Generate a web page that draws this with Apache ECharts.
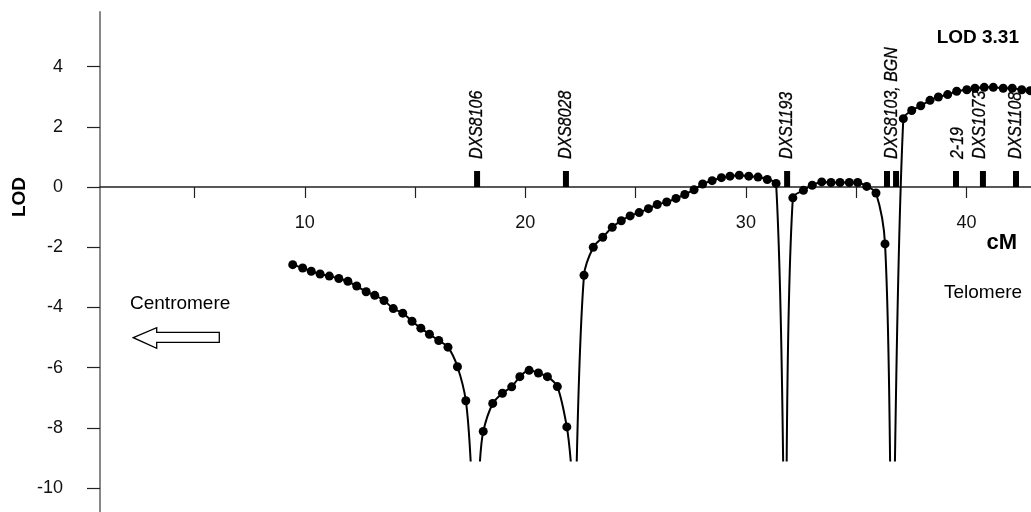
<!DOCTYPE html>
<html>
<head>
<meta charset="utf-8">
<script src="https://cdn.jsdelivr.net/npm/echarts@6/dist/echarts.min.js"></script>
<style>
html,body{margin:0;padding:0;background:#fff;}
#chart{width:1031px;height:512px;}
</style>
</head>
<body>
<div id="chart"></div>
<script>
// ---- data (cM, LOD) ----
const seg1 = [[9.45,-2.58],[9.90,-2.69],[10.29,-2.80],[10.69,-2.89],[11.11,-2.96],[11.54,-3.04],[11.95,-3.13],[12.35,-3.29],[12.78,-3.48],[13.17,-3.60],[13.59,-3.77],[14.01,-4.04],[14.44,-4.19],[14.86,-4.46],[15.26,-4.69],[15.65,-4.89],[16.07,-5.10],[16.49,-5.32],[16.92,-5.97],[17.30,-7.10]];
const seg2 = [[18.09,-8.12],[18.52,-7.19],[18.96,-6.85],[19.38,-6.64],[19.75,-6.30],[20.17,-6.09],[20.59,-6.18],[21.00,-6.30],[21.45,-6.63],[21.88,-7.97]];
const seg3 = [[22.66,-2.93],[23.08,-2.00],[23.51,-1.67],[23.94,-1.34],[24.35,-1.12],[24.75,-0.96],[25.16,-0.85],[25.58,-0.72],[25.98,-0.58],[26.41,-0.50],[26.83,-0.38],[27.23,-0.25],[27.65,-0.09],[28.04,0.10],[28.47,0.21],[28.89,0.31],[29.28,0.36],[29.70,0.39],[30.13,0.36],[30.55,0.33],[30.97,0.25],[31.37,0.12]];
const seg4 = [[32.13,-0.36],[32.61,-0.11],[33.01,0.06],[33.44,0.17],[33.86,0.15],[34.27,0.15],[34.69,0.15],[35.07,0.15],[35.48,0.02],[35.90,-0.20],[36.31,-1.89]];
const seg5 = [[37.14,2.27],[37.52,2.54],[37.93,2.70],[38.35,2.88],[38.73,2.99],[39.15,3.07],[39.56,3.18],[40.02,3.23],[40.39,3.28],[40.81,3.31],[41.22,3.31],[41.67,3.28],[42.08,3.28],[42.51,3.23],[42.89,3.20]];
const segments = [seg1, seg2, seg3, seg4, seg5];
// curve truncated at the floor value where LOD drops toward -infinity
const lodFloor = -9.12;
const dropStarts = [null, 17.94, 22.33, 31.85, 36.76];
const dropEnds = [17.52, 22.06, 31.69, 36.54, null];

// markers on the map (cM)
const markerPos = [17.81, 21.84, 31.87, 36.40, 36.81, 39.53, 40.75, 42.25];
const markerNames = ['DXS8106', 'DXS8028', 'DXS1193', 'DXS8103, BGN', '2-19', 'DXS1073', 'DXS1108'];
const markerNamePos = [17.81, 21.84, 31.87, 36.60, 39.62, 40.60, 42.25];

// axes
const xTicks = [5, 10, 15, 20, 25, 30, 35, 40];
const xLabels = [10, 20, 30, 40];
const yTicks = [-10, -8, -6, -4, -2, 0, 2, 4];
const xRange = [0.71, 42.93];
const yRange = [-10.797, 5.814];

const FONT = "'Liberation Sans', Arial, Helvetica, sans-serif";
const GRID_TOP = 12, GRID_H = 500;
// x axis sits on LOD = 0
const zeroOffset = -GRID_H * (0 - yRange[0]) / (yRange[1] - yRange[0]);

const chart = echarts.init(document.getElementById('chart'), null, {renderer: 'canvas'});

const series = segments.map((seg, i) => {
  const data = [];
  if (dropStarts[i] !== null) data.push({value: [dropStarts[i], lodFloor], symbol: 'none'});
  seg.forEach(p => data.push({value: p}));
  if (dropEnds[i] !== null) data.push({value: [dropEnds[i], lodFloor], symbol: 'none'});
  return {
    type: 'line', data, smooth: 0.3, symbol: 'circle', symbolSize: 9,
    itemStyle: {color: '#000'}, lineStyle: {color: '#000', width: 2},
    z: 3, silent: true
  };
});

series.push({
  type: 'custom', z: 4, silent: true,
  data: markerPos.map(v => [v, 0]),
  renderItem: (params, api) => {
    const p = api.coord([api.value(0), api.value(1)]);
    return {type: 'rect', shape: {x: p[0] - 3, y: p[1] - 16, width: 6, height: 16}, style: {fill: '#000'}};
  }
});
series.push({
  type: 'custom', z: 4, silent: true,
  data: markerNamePos.map((v, i) => [v, 0, i]),
  renderItem: (params, api) => {
    const p = api.coord([api.value(0), api.value(1)]);
    return {
      type: 'text', x: p[0], y: p[1] - 28, rotation: Math.PI / 2, scaleX: 0.84, scaleY: 1,
      style: {
        text: markerNames[api.value(2)], fill: '#000', align: 'left', verticalAlign: 'middle',
        fontFamily: FONT, fontStyle: 'italic', fontSize: 19, stroke: '#000', lineWidth: 0.3
      }
    };
  }
});

chart.setOption({
  animation: false,
  backgroundColor: '#fff',
  grid: {left: 100, right: 0, top: GRID_TOP, height: GRID_H, containLabel: false, outerBoundsMode: 'none'},
  xAxis: {
    type: 'value', min: xRange[0], max: xRange[1], position: 'bottom', offset: zeroOffset,
    axisLine: {onZero: false, lineStyle: {color: '#222', width: 1.5}},
    axisTick: {show: true, customValues: xTicks, length: 11, lineStyle: {color: '#222', width: 1.2}},
    axisLabel: {customValues: xLabels, margin: 27, color: '#111', fontSize: 18, fontFamily: FONT},
    splitLine: {show: false}
  },
  yAxis: {
    type: 'value', min: yRange[0], max: yRange[1],
    axisLine: {show: true, onZero: false, lineStyle: {color: '#888', width: 2}},
    axisTick: {show: true, customValues: yTicks, length: 13, lineStyle: {color: '#222', width: 1.2}},
    axisLabel: {customValues: yTicks, margin: 37, color: '#111', fontSize: 18, fontFamily: FONT},
    splitLine: {show: false}
  },
  graphic: [
    {type: 'text', x: 20, y: 197, rotation: Math.PI / 2,
     style: {text: 'LOD', fontFamily: FONT, fontWeight: 'bold', fontSize: 19, fill: '#000', align: 'center', verticalAlign: 'middle'}},
    {type: 'text', x: 1019, y: 38,
     style: {text: 'LOD 3.31', fontFamily: FONT, fontWeight: 'bold', fontSize: 19, fill: '#000', align: 'right', verticalAlign: 'middle'}},
    {type: 'text', x: 1017, y: 243,
     style: {text: 'cM', fontFamily: FONT, fontWeight: 'bold', fontSize: 22, fill: '#000', align: 'right', verticalAlign: 'middle'}},
    {type: 'text', x: 944, y: 293,
     style: {text: 'Telomere', fontFamily: FONT, fontSize: 19, fill: '#000', align: 'left', verticalAlign: 'middle'}},
    {type: 'text', x: 130, y: 304,
     style: {text: 'Centromere', fontFamily: FONT, fontSize: 19, fill: '#000', align: 'left', verticalAlign: 'middle'}},
    {type: 'polygon',
     shape: {points: [[133.3, 337.7], [156.7, 327.7], [156.7, 332.3], [219.3, 332.3], [219.3, 342.3], [156.7, 342.3], [156.7, 348.3]]},
     style: {fill: '#fff', stroke: '#000', lineWidth: 1.3}}
  ],
  series
});
</script>
</body>
</html>
